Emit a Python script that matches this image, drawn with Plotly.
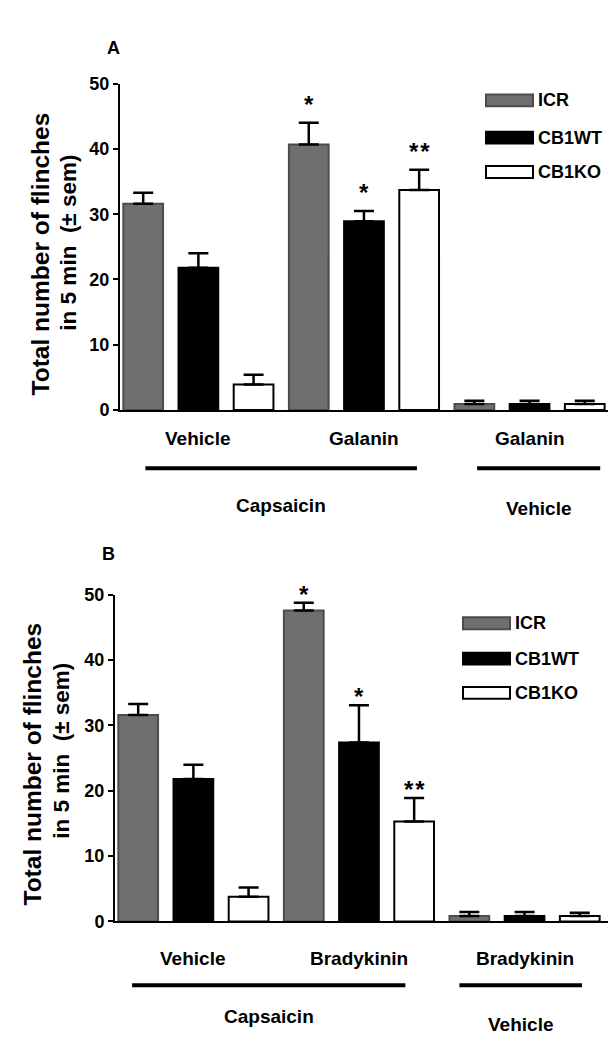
import plotly.graph_objects as go

# ---------------- data ----------------
series = ["ICR", "CB1WT", "CB1KO"]

groups_a = ["Vehicle", "Galanin", "Galanin"]
pretreat_a = ["Capsaicin", "Vehicle"]
icr_a = [31.6, 40.7, 0.9]
icr_a_err = [1.7, 3.3, 0.5]
cb1wt_a = [21.8, 28.9, 0.9]
cb1wt_a_err = [2.2, 1.6, 0.5]
cb1ko_a = [3.9, 33.7, 0.9]
cb1ko_a_err = [1.5, 3.1, 0.5]
sig_icr_a = ["", "*", ""]
sig_cb1wt_a = ["", "*", ""]
sig_cb1ko_a = ["", "**", ""]

groups_b = ["Vehicle", "Bradykinin", "Bradykinin"]
pretreat_b = ["Capsaicin", "Vehicle"]
icr_b = [31.6, 47.6, 0.85]
icr_b_err = [1.7, 1.2, 0.6]
cb1wt_b = [21.8, 27.4, 0.85]
cb1wt_b_err = [2.2, 5.7, 0.6]
cb1ko_b = [3.8, 15.3, 0.85]
cb1ko_b_err = [1.4, 3.6, 0.5]
sig_icr_b = ["", "*", ""]
sig_cb1wt_b = ["", "*", ""]
sig_cb1ko_b = ["", "**", ""]

y_ticks = [0, 10, 20, 30, 40, 50]
y_title = ["Total number of flinches", "in 5 min \u00a0(± sem)"]

# ---------------- style ----------------
W, H = 616, 1050
FONT = "Liberation Sans, Arial, sans-serif"
fills = ["#6f6f6f", "#000000", "#ffffff"]
edges = ["#4c4c4c", "#000000", "#000000"]


def px(x):
    return x / W


def py(y):
    return 1 - y / H


def bold(size):
    return dict(family=FONT, size=size, color="black", weight="bold")


fig = go.Figure()

panels = [
    dict(name="A", groups=groups_a, pre=pretreat_a,
         vals=[icr_a, cb1wt_a, cb1ko_a], errs=[icr_a_err, cb1wt_a_err, cb1ko_a_err],
         sigs=[sig_icr_a, sig_cb1wt_a, sig_cb1ko_a],
         xa="x", ya="y", star_shift=3,
         letter=(97, 18), title_x=(32, 61), title_y=(241, 229),
         leg_x=478, leg_w=47, leg_y=[84, 122, 157],
         lab_y=429, line_y=459, pre_y=[497, 500],
         lines=[(0.04, 4.96), (6.05, 8.28)]),
    dict(name="B", groups=groups_b, pre=pretreat_b,
         vals=[icr_b, cb1wt_b, cb1ko_b], errs=[icr_b_err, cb1wt_b_err, cb1ko_b_err],
         sigs=[sig_icr_b, sig_cb1wt_b, sig_cb1ko_b],
         xa="x2", ya="y2", star_shift=-7,
         letter=(92, 546), title_x=(25, 54), title_y=(761, 747),
         leg_x=455, leg_w=47, leg_y=[617, 653, 688],
         lab_y=959, line_y=986, pre_y=[1018, 1026],
         lines=[(-0.11, 4.84), (5.82, 8.04)]),
]

annotations = []
shapes = []
ns = len(series)

for p in panels:
    ng = len(p["groups"])
    for s in range(ns):
        xs = [g * ns + s for g in range(ng)]
        fig.add_trace(go.Bar(
            x=xs, y=p["vals"][s], width=0.72, xaxis=p["xa"], yaxis=p["ya"],
            marker=dict(color=fills[s], line=dict(color=edges[s], width=2)),
            error_y=dict(type="data", array=p["errs"][s], arrayminus=[0] * ng,
                         symmetric=False, color="black", thickness=2.5, width=10),
            name=series[s], showlegend=False,
        ))
        for g in range(ng):
            if p["sigs"][s][g]:
                annotations.append(dict(
                    x=xs[g], y=p["vals"][s][g] + p["errs"][s][g], xref=p["xa"], yref=p["ya"],
                    text="\u200a".join(p["sigs"][s][g]), showarrow=False,
                    yanchor="bottom", yshift=p["star_shift"], font=bold(24)))
        # legend patch + label
        ly = p["leg_y"][s]
        shapes.append(dict(type="rect", xref="paper", yref="paper",
                           x0=px(p["leg_x"]), x1=px(p["leg_x"] + p["leg_w"]),
                           y0=py(ly + 6), y1=py(ly - 6),
                           fillcolor=fills[s], line=dict(color=edges[s], width=2)))
        annotations.append(dict(x=px(p["leg_x"] + p["leg_w"] + 3), y=py(ly), xref="paper", yref="paper",
                                text=series[s], showarrow=False, xanchor="left", yanchor="middle",
                                font=bold(18)))

    # group labels
    for g in range(ng):
        annotations.append(dict(x=g * ns + 1, y=py(p["lab_y"]), xref=p["xa"], yref="paper",
                                text=p["groups"][g], showarrow=False, yanchor="middle",
                                font=bold(19)))
    # pretreatment lines + labels
    for i, (x0, x1) in enumerate(p["lines"]):
        shapes.append(dict(type="line", xref=p["xa"], yref="paper", x0=x0, x1=x1,
                           y0=py(p["line_y"]), y1=py(p["line_y"]),
                           line=dict(color="black", width=4)))
        annotations.append(dict(x=(x0 + x1) / 2, y=py(p["pre_y"][i]), xref=p["xa"], yref="paper",
                                text=p["pre"][i], showarrow=False, yanchor="middle",
                                font=bold(19)))
    # panel letter
    annotations.append(dict(x=px(p["letter"][0]), y=py(p["letter"][1]), xref="paper", yref="paper",
                            text=p["name"], showarrow=False, font=bold(18)))
    # y title (two lines)
    for i, (txt, size) in enumerate(zip(y_title, [24.5, 22.5])):
        annotations.append(dict(x=px(p["title_x"][i]), y=py(p["title_y"][i]), xref="paper", yref="paper",
                                text=txt, textangle=-90, showarrow=False,
                                xanchor="center", yanchor="middle", font=bold(size)))

axis_common_y = dict(range=[0, 50], tickvals=y_ticks, ticks="outside", ticklen=5, tickwidth=2,
                     tickcolor="black", showline=True, linecolor="black", linewidth=2,
                     showgrid=False, zeroline=False, tickfont=bold(18))
axis_common_x = dict(range=[-0.42, 8.53], showline=True, linecolor="black", linewidth=2,
                     showticklabels=False, ticks="", showgrid=False, zeroline=False)

fig.update_layout(
    width=W, height=H, margin=dict(l=0, r=0, t=0, b=0),
    paper_bgcolor="white", plot_bgcolor="white", barmode="overlay", showlegend=False,
    xaxis=dict(domain=[px(112), px(606)], anchor="y", **axis_common_x),
    yaxis=dict(domain=[py(399.5), py(67)], anchor="x", **axis_common_y),
    xaxis2=dict(domain=[px(107), px(601)], anchor="y2", **axis_common_x),
    yaxis2=dict(domain=[py(921), py(588)], anchor="x2", **axis_common_y),
    annotations=annotations, shapes=shapes,
)

fig.write_html("out.html")
